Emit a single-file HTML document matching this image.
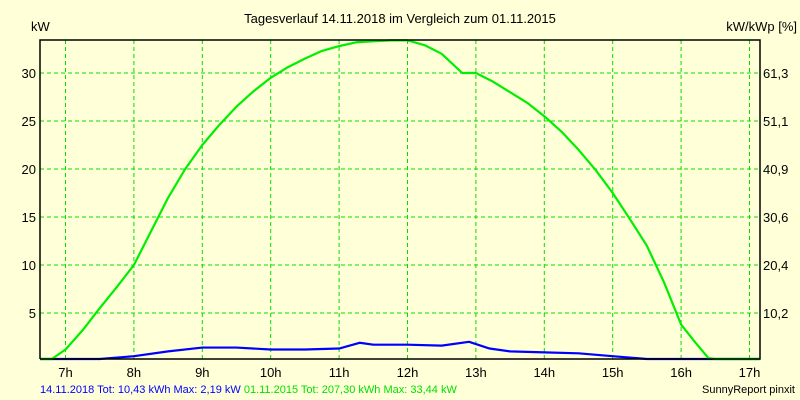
<!DOCTYPE html>
<html><head><meta charset="utf-8"><style>
body{margin:0;background:#ffffd8;}
svg{display:block;font-family:"Liberation Sans",sans-serif;}
</style></head><body>
<svg id="c" width="800" height="400" viewBox="0 0 800 400">
<rect x="0" y="0" width="800" height="400" fill="#ffffd8"/>
<text x="400" y="23" font-size="13" text-anchor="middle">Tagesverlauf 14.11.2018 im Vergleich zum 01.11.2015</text>
<text x="31" y="31" font-size="13">kW</text>
<text x="797" y="31" font-size="13" text-anchor="end">kW/kWp [%]</text>
<g id="grid"></g><g id="series"></g><g id="axes"></g>
<text x="40" y="393" font-size="11" fill="#0000ff">14.11.2018 Tot: 10,43 kWh Max: 2,19 kW <tspan fill="#00e000">01.11.2015 Tot: 207,30 kWh Max: 33,44 kW</tspan></text>
<text x="795" y="393" font-size="11" text-anchor="end">SunnyReport pinxit</text>
</svg>
<script>
const hourTicks=[7,8,9,10,11,12,13,14,15,16,17];
const yTicks=[5,10,15,20,25,30];
const rightLabels=["10,2","20,4","30,6","40,9","51,1","61,3"];
const greenHours=[6.63,6.8,7,7.25,7.5,7.75,8,8.25,8.5,8.75,9,9.25,9.5,9.75,10,10.25,10.5,10.75,11,11.25,11.5,11.75,12,12.25,12.5,12.8,13,13.25,13.5,13.75,14,14.25,14.5,14.75,15,15.25,15.5,15.75,16,16.2,16.4,16.5,17.15];
const greenVals=[0,0,1.2,3.2,5.5,7.7,10,13.5,17,20,22.5,24.6,26.5,28.1,29.5,30.6,31.5,32.3,32.8,33.2,33.3,33.4,33.4,32.9,32,30,30,29.1,28,26.9,25.5,23.9,22,19.9,17.5,14.8,12,8.2,3.8,2,0.3,0,0];
const blueHours=[6.63,7,7.5,8,8.5,9,9.5,10,10.5,11,11.3,11.5,12,12.5,12.9,13.2,13.5,14,14.5,15,15.5,15.7,17.15];
const blueVals=[0,0,0.2,0.5,1.0,1.4,1.4,1.2,1.2,1.3,1.9,1.7,1.7,1.6,2.0,1.3,1.0,0.9,0.8,0.5,0.2,0,0];
const L=40,R=760,T=40,B=359;
const xS=h=>65.5+(h-7)*68.4;
const yS=v=>Math.min(B,361-v*9.6);
const NS="http://www.w3.org/2000/svg";
function mk(tag,parent,attrs){const e=document.createElementNS(NS,tag);for(const k in attrs)e.setAttribute(k,attrs[k]);parent.appendChild(e);return e;}
const g=document.getElementById('grid'),s=document.getElementById('series'),a=document.getElementById('axes');
hourTicks.forEach(h=>{const x=xS(h);
 const l=mk('line',g,{x1:x,x2:x,y1:T,y2:B,stroke:'#00e000','stroke-dasharray':'4,3'});
 
 
 const t=mk('text',a,{x:x,y:377,'font-size':13,'text-anchor':'middle'});t.textContent=h+'h';
 
 
});
yTicks.forEach((v,i)=>{const y=yS(v);
 const l=mk('line',g,{x1:L,x2:R,y1:y,y2:y,stroke:'#00e000','stroke-dasharray':'4,3'});
 
 
 const t=mk('text',a,{x:36,y:y+5,'font-size':13,'text-anchor':'end'});t.textContent=v;
 
 
 const t2=mk('text',a,{x:763,y:y+5,'font-size':13});t2.textContent=rightLabels[i];
 
 
});
const fr=mk('polyline',a,{points:`${L},${B} ${L},${T} ${R},${T} ${R},${B} ${L},${B}`,fill:'none',stroke:'#000','stroke-width':1.5});


function line(hs,vs,col,name){const p=mk('polyline',s,{points:hs.map((h,i)=>xS(h)+','+yS(vs[i])).join(' '),fill:'none',stroke:col,'stroke-width':2.2,'stroke-linejoin':'round'});
 
 }
line(blueHours,blueVals,'#0000ff','series-2018');
line(greenHours,greenVals,'#00ee00','series-2015');
</script>
</body></html>
